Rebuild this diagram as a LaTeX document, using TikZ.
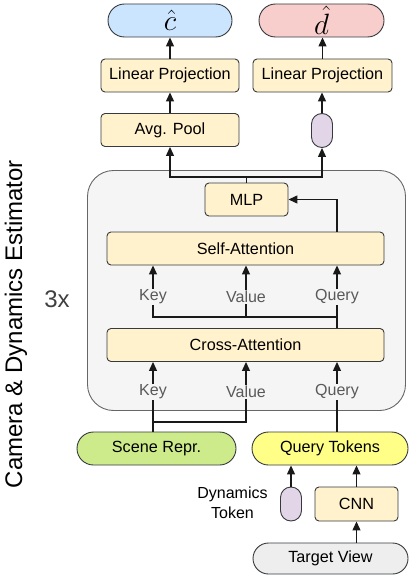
\documentclass[tikz,border=0pt]{standalone}
\usepackage{fontspec}
\setmainfont{Liberation Sans}
\usetikzlibrary{arrows.meta}
\definecolor{yel}{HTML}{FFF2CC}
\definecolor{blu}{HTML}{CCE5FF}
\definecolor{pnk}{HTML}{F8CECC}
\definecolor{pur}{HTML}{E1D5E7}
\definecolor{grn}{HTML}{CDEB8B}
\definecolor{qyel}{HTML}{FFFF88}
\definecolor{tgray}{HTML}{EEEEEE}
\definecolor{bgray}{HTML}{F5F5F5}
\definecolor{edge}{HTML}{36393D}
\begin{document}
\begin{tikzpicture}[x=1pt,y=-1pt,
  base/.style={draw=edge, line width=0.9pt, inner sep=0pt, minimum height=33pt, font=\fontsize{16.2}{19}\selectfont},
  box/.style={base, fill=yel, rounded corners=4pt},
  pill/.style={base, rounded corners=16.5pt},
  tok/.style={base, fill=pur, minimum width=21pt, minimum height=34pt, rounded corners=10.5pt},
  lbl/.style={text=black!65, font=\fontsize{16}{19}\selectfont, inner sep=1pt},
  arr/.style={-{Triangle[width=8pt,length=9pt]}, line width=1.2pt, draw=black!90},
  ln/.style={line width=1.2pt, draw=black!90}]
\useasboundingbox (0,0) rectangle (409,575);
% big container
\node[draw=black!60, fill=bgray, line width=0.9pt, rounded corners=26pt, minimum width=318pt, minimum height=240pt] (est) at (246.5,290.5) {};
% top outputs
\node[pill, fill=blu, minimum width=124pt] (c) at (170,20.5) {\scalebox{1.7}{$\hat{c}$}};
\node[pill, fill=pnk, minimum width=125pt] (d) at (321.5,20.5) {\scalebox{1.7}{$\hat{d}$}};
\node[box, minimum width=138pt] (lp1) at (170,75.5) {Linear Projection};
\node[box, minimum width=139pt] (lp2) at (322.5,75.5) {Linear Projection};
\node[box, minimum width=138pt] (pool) at (170,130) {Avg. Pool};
\node[tok] (dt1) at (322,130.5) {};
% inside container
\node[box, minimum width=83pt] (mlp) at (246.5,199.5) {MLP};
\node[box, minimum width=277pt] (sa) at (245.5,248.5) {Self-Attention};
\node[box, minimum width=277pt] (ca) at (245.5,345) {Cross-Attention};
\node[lbl] (k1) at (153,297) {Key};
\node[lbl] (v1) at (246,297) {Value};
\node[lbl] (q1) at (337,297) {Query};
\node[lbl] (k2) at (153,392) {Key};
\node[lbl] (v2) at (246,392) {Value};
\node[lbl] (q2) at (337,392) {Query};
% bottom inputs
\node[pill, fill=grn, minimum width=159pt] (scene) at (156.5,448.5) {Scene Repr.};
\node[pill, fill=qyel, minimum width=156pt] (qt) at (330,448.5) {Query Tokens};
\node[tok] (dt2) at (291,504) {};
\node[box, minimum width=83pt, minimum height=34pt] (cnn) at (356.5,504) {CNN};
\node[pill, fill=tgray, minimum width=155pt, minimum height=31pt, rounded corners=15.5pt] (tv) at (330.5,558.5) {Target View};
\node[font=\fontsize{16}{20}\selectfont, align=center, inner sep=0pt] (dlab) at (232.5,503) {Dynamics\\Token};
\node[text=black!75, font=\fontsize{24}{26}\selectfont] (three) at (57,299) {3x};
\node[rotate=90, font=\fontsize{24}{26}\selectfont, inner sep=0pt] (title) at (16,324) {Camera \& Dynamics Estimator};
% connectors top
\draw[arr] (lp1.north) -- (c.south -| lp1.north);
\draw[arr] (lp2.north) -- (d.south -| lp2.north);
\draw[arr] (pool.north) -- (lp1.south);
\draw[arr] (dt1.north) -- (lp2.south -| dt1.north);
\coordinate (jn) at (mlp.north |- 0,177);
\draw[ln] (mlp.north) -- (jn);
\draw[arr] (jn) -| (pool.south);
\draw[arr] (jn) -| (dt1.south);
% MLP input
\draw[arr] (sa.north -| q1) |- (mlp.east);
% self-attn inputs
\draw[arr] (k1.north) -- (sa.south -| k1);
\draw[arr] (v1.north) -- (sa.south -| v1);
\draw[arr] (q1.north) -- (sa.south -| q1);
\coordinate (sp) at (q1 |- 0,317);
\draw[ln] (ca.north -| q1) -- (sp);
\draw[ln] (k1.south) -- (k1 |- sp) -- (sp);
\draw[ln] (v1.south) -- (v1 |- sp);
\draw[ln] (q1.south) -- (sp);
% cross-attn inputs
\draw[arr] (k2.north) -- (ca.south -| k2);
\draw[arr] (v2.north) -- (ca.south -| v2);
\draw[arr] (q2.north) -- (ca.south -| q2);
\coordinate (sj) at (k2 |- 0,422);
\draw[ln] (scene.north -| k2) -- (k2.south);
\draw[ln] (v2.south) |- (sj);
\draw[ln] (qt.north -| q2) -- (q2.south);
% bottom
\draw[arr] (dt2.north) -- (qt.south -| dt2);
\draw[arr] (cnn.north) -- (qt.south -| cnn);
\draw[arr] (tv.north -| cnn) -- (cnn.south);
\end{tikzpicture}
\end{document}
